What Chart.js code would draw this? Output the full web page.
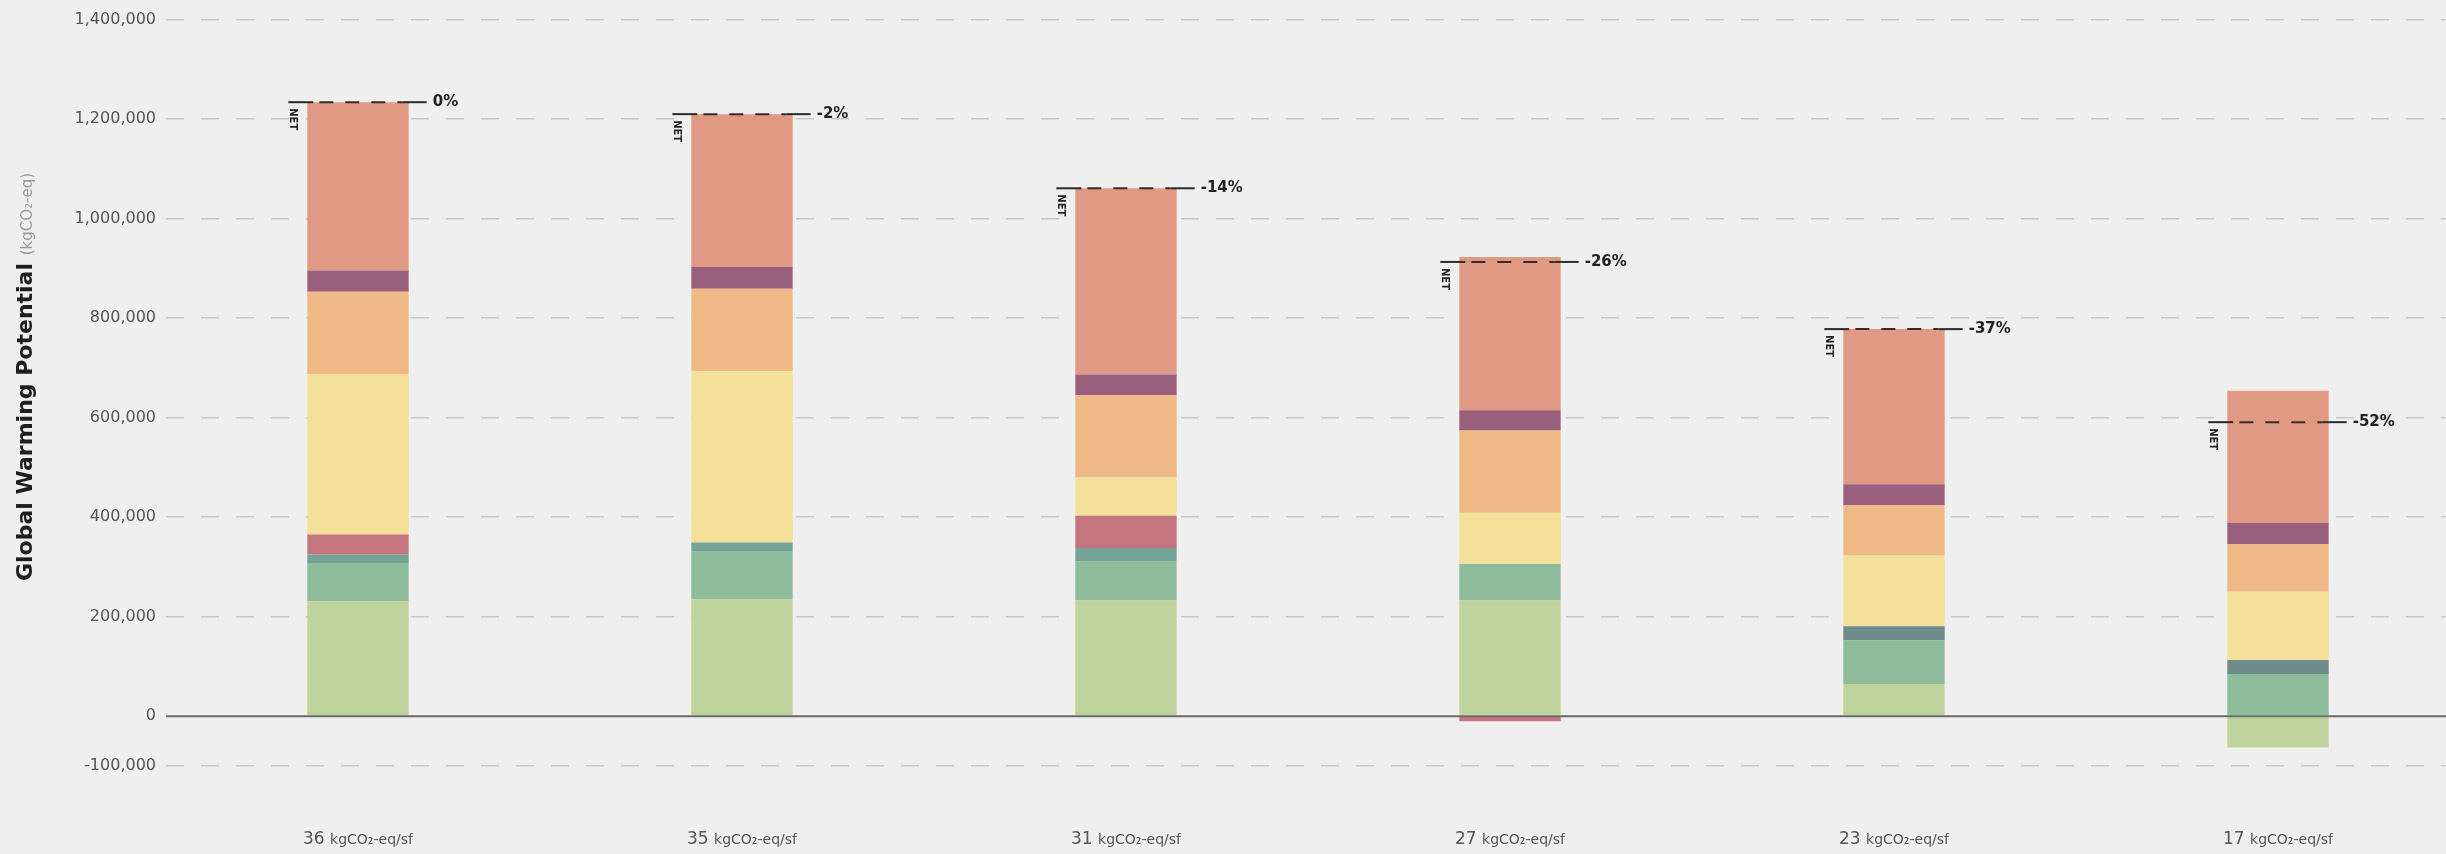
<!DOCTYPE html>
<html><head><meta charset="utf-8">
<script src="https://cdn.jsdelivr.net/npm/chart.js@4.4.0/dist/chart.umd.min.js"></script>
<style>
html,body{margin:0;padding:0;background:#efefef;overflow:hidden;}
#wrap{position:relative;width:2470px;height:854px;}
</style></head><body>
<div id="wrap"><canvas id="c"></canvas></div>
<script>
// ---- data ----
const categories = ['36', '35', '31', '27', '23', '17'];
const unitLabel = 'kgCO₂-eq/sf';
const netLabels = ['0%', '-2%', '-14%', '-26%', '-37%', '-52%'];
const yTickValues = [-100000, 0, 200000, 400000, 600000, 800000, 1000000, 1200000, 1400000];

const lightGreen = [231000, 235000, 233000, 233000, 65000, -63000];
const green      = [77000, 97000, 78000, 73000, 87000, 85000];
const teal       = [17000, 17000, 27000, 0, 0, 0];
const slate      = [0, 0, 0, 0, 29000, 28000];
const red        = [40000, 0, 65000, -10000, 0, 0];
const yellow     = [323000, 345000, 77000, 103000, 142000, 137000];
const orange     = [165000, 165000, 165000, 165000, 101000, 96000];
const purple     = [43000, 44000, 42000, 41000, 42000, 43000];
const salmon     = [338000, 307000, 374000, 308000, 312000, 265000];

const seriesList = [
  ['lightGreen', lightGreen, '#bfd39d'],
  ['green', green, '#8fbd9c'],
  ['teal', teal, '#76a397'],
  ['slate', slate, '#6f8b8b'],
  ['red', red, '#c5757d'],
  ['yellow', yellow, '#f3e199'],
  ['orange', orange, '#f0b886'],
  ['purple', purple, '#9b5f7e'],
  ['salmon', salmon, '#e09983']
];

const datasets = seriesList.map(([name, data, color]) => ({
  label: name, data: data, backgroundColor: color, borderWidth: 0,
  barPercentage: 1, categoryPercentage: 0.264
}));

const FONT = "'DejaVu Sans', sans-serif";

const overlay = {
  id: 'overlay',
  afterDatasetsDraw(chart) {
    const ctx = chart.ctx, y = chart.scales.y, area = chart.chartArea;
    const y0 = y.getPixelForValue(0);
    ctx.save();
    ctx.strokeStyle = '#6a6a6a'; ctx.lineWidth = 2.2;
    ctx.beginPath(); ctx.moveTo(area.left, y0); ctx.lineTo(area.right, y0); ctx.stroke();
    const meta = chart.getDatasetMeta(0);
    categories.forEach((c, i) => {
      let net = 0;
      seriesList.forEach(s => net += s[1][i]);
      const py = y.getPixelForValue(net);
      const bar = meta.data[i];
      const half = bar.width / 2;
      const bl = bar.x - half, br = bar.x + half;
      const l0 = bl - 19, r0 = br + 18;
      ctx.strokeStyle = '#2b2b2b'; ctx.lineWidth = 2;
      ctx.setLineDash([]);
      ctx.beginPath(); ctx.moveTo(l0, py); ctx.lineTo(bl + 6, py); ctx.stroke();
      ctx.beginPath(); ctx.moveTo(br - 6, py); ctx.lineTo(r0, py); ctx.stroke();
      ctx.setLineDash([14, 12]); ctx.lineDashOffset = -6;
      ctx.strokeStyle = '#3b2a2a';
      ctx.beginPath(); ctx.moveTo(bl + 6, py); ctx.lineTo(br - 6, py); ctx.stroke();
      ctx.setLineDash([]);
      ctx.fillStyle = '#222';
      ctx.font = "bold 15px " + FONT;
      ctx.textAlign = 'left'; ctx.textBaseline = 'middle';
      ctx.fillText(netLabels[i], r0 + 6, py);
      ctx.save();
      ctx.translate(bl - 15, py + 6);
      ctx.rotate(Math.PI / 2);
      ctx.font = "bold 10px " + FONT;
      ctx.textAlign = 'left'; ctx.textBaseline = 'middle';
      ctx.fillStyle = '#222';
      ctx.fillText('NET', 0, 0);
      ctx.restore();
    });
    ctx.restore();
  },
  afterDraw(chart) {
    const ctx = chart.ctx, x = chart.scales.x;
    ctx.save();
    categories.forEach((c, i) => {
      const cx = x.getPixelForValue(i);
      ctx.font = "17px " + FONT;
      const w1 = ctx.measureText(c + ' ').width;
      ctx.font = "14px " + FONT;
      const w2 = ctx.measureText(unitLabel).width;
      const start = cx - (w1 + w2) / 2;
      ctx.fillStyle = '#555'; ctx.textBaseline = 'alphabetic'; ctx.textAlign = 'left';
      ctx.font = "17px " + FONT;
      ctx.fillText(c + ' ', start, 844);
      ctx.font = "14px " + FONT;
      ctx.fillText(unitLabel, start + w1, 844);
    });
    ctx.translate(32, 377);
    ctx.rotate(-Math.PI / 2);
    const t1 = 'Global Warming Potential', t2 = '(kgCO₂-eq)';
    ctx.font = "bold 22px " + FONT;
    const a = ctx.measureText(t1 + ' ').width;
    ctx.font = "15px " + FONT;
    const b = ctx.measureText(t2).width;
    const s = -(a + b) / 2;
    ctx.textAlign = 'left'; ctx.textBaseline = 'alphabetic';
    ctx.font = "bold 22px " + FONT; ctx.fillStyle = '#1e1e1e';
    ctx.fillText(t1 + ' ', s, 0);
    ctx.font = "15px " + FONT; ctx.fillStyle = '#9a9a9a';
    ctx.fillText(t2, s + a, 0);
    ctx.restore();
  }
};

new Chart(document.getElementById('c'), {
  type: 'bar',
  data: { labels: categories, datasets: datasets },
  options: {
    responsive: true, maintainAspectRatio: false, animation: false,
    layout: { padding: { left: 0, right: 0, top: 15, bottom: 88 } },
    plugins: { legend: { display: false }, tooltip: { enabled: false } },
    scales: {
      x: { stacked: true, display: false },
      y: {
        stacked: true, min: -100000, max: 1400000,
        afterBuildTicks: (scale) => { scale.ticks = yTickValues.map(v => ({ value: v })); },
        afterFit: (scale) => { scale.width = 166; },
        ticks: {
          color: '#555', padding: 10,
          font: { family: FONT, size: 16 },
          callback: (v) => Number(v).toLocaleString('en-US')
        },
        grid: {
          drawTicks: false, lineWidth: 1.5,
          color: (ctx) => (ctx.tick && ctx.tick.value === 0) ? 'rgba(0,0,0,0)' : '#c8c8c8'
        },
        border: { display: false, dash: [18, 17] }
      }
    }
  },
  plugins: [overlay]
});
</script>
</body></html>
